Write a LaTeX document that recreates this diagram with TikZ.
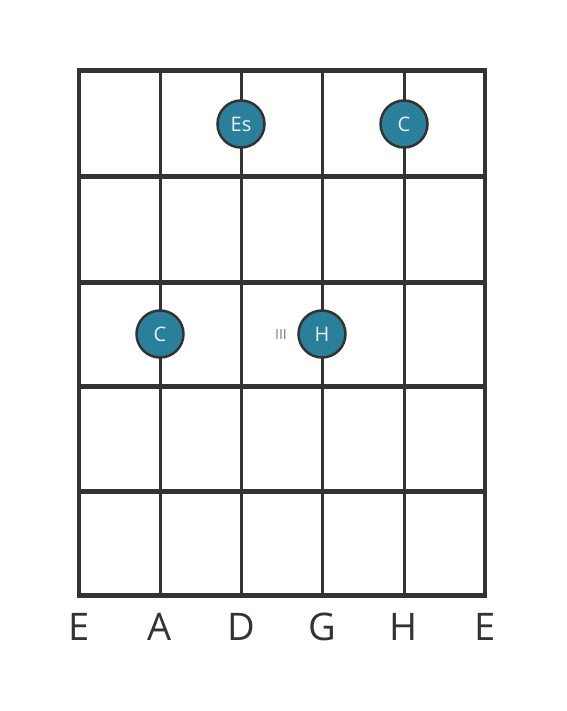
\documentclass[tikz,border=0pt]{standalone}
\usepackage{fontspec}
\setmainfont{Open Sans}
\definecolor{linec}{HTML}{333333}
\definecolor{dotfill}{HTML}{2A7F9B}
\definecolor{dottext}{HTML}{E6F4F8}
\definecolor{markc}{HTML}{7A7A7A}
\begin{document}
\begin{tikzpicture}[x=1pt,y=-1pt,
  fret/.style={draw=linec,line width=5pt},
  string/.style={draw=linec,line width=3pt},
  outer/.style={draw=linec,line width=4pt},
  dot/.style={circle,draw=linec,line width=2.5pt,fill=dotfill,minimum size=47pt,inner sep=0pt,text=dottext,font=\fontsize{20}{22}\selectfont},
  lbl/.style={text=linec,font=\fontsize{38}{40}\selectfont,inner sep=0pt},
  fretmark/.style={text=markc,font=\fontsize{14}{16}\selectfont,inner sep=0pt}]
\useasboundingbox (0,0) rectangle (566,711);
% coordinates
\foreach \i/\x in {1/79,2/160,3/241,4/322,5/404,6/485}{
  \foreach \j/\y in {0/71,1/177,2/282,3/386,4/491,5/595}{
    \coordinate (p\i-\j) at (\x,\y);
  }
}
% strings
\foreach \i in {2,3,4,5}{ \draw[string] (p\i-0) -- (p\i-5); }
\draw[outer] (p1-0) -- (p1-5);
\draw[outer] (p6-0) -- (p6-5);
% frets
\foreach \j in {0,1,2,3,4,5}{ \draw[fret] ([xshift=-2pt]p1-\j) -- ([xshift=2pt]p6-\j); }
% dots
\node[dot] (es) at (241,124) {Es};
\node[dot] (c1) at (404,124) {C};
\node[dot] (c2) at (160,334) {C};
\node[dot] (h) at (322,334) {H};
\node[fretmark] (m) at (281,335) {III};
% labels
\foreach \i/\x/\t in {1/79/E,2/160/A,3/241/D,4/322/G,5/404/H,6/485/E}{
  \node[lbl] (l\i) at (\x,627) {\t};
}
\end{tikzpicture}
\end{document}
